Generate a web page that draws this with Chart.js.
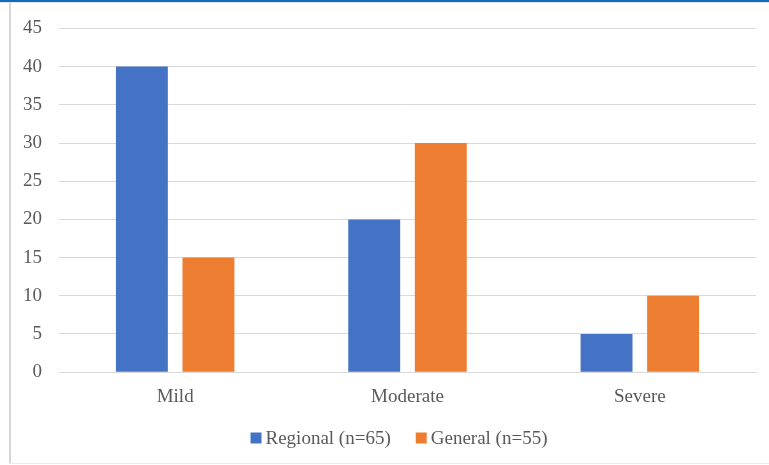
<!DOCTYPE html>
<html>
<head>
<meta charset="utf-8">
<script src="https://cdn.jsdelivr.net/npm/chart.js@4"></script>
<style>
  html, body { margin: 0; padding: 0; background: #fff; }
  #frame {
    position: absolute; left: 0; top: 0; width: 769px; height: 465px;
    overflow: hidden; background: #fff;
  }
  #topbar { position: absolute; left: 0; top: 0; width: 769px; height: 2px; background: #0f6cbd; }
  #topline { position: absolute; left: 0; top: 2px; width: 769px; height: 1px; background: #e4e4e4; }
  #leftline { position: absolute; left: 9px; top: 3px; width: 2px; height: 460px; background: #d6d6d6; }
  #bottomline { position: absolute; left: 9px; top: 463px; width: 760px; height: 1px; background: #ececec; }
  #wrap { position: absolute; left: 0; top: 0; width: 769px; height: 465px; }
</style>
</head>
<body>
<div id="frame">
  <div id="wrap"><canvas id="c" width="769" height="465"></canvas></div>
  <div id="topbar"></div>
  <div id="topline"></div>
  <div id="leftline"></div>
  <div id="bottomline"></div>
</div>
<script>
const categories = ['Mild', 'Moderate', 'Severe'];
const regionalValues = [40, 20, 5];
const generalValues = [15, 30, 10];
const seriesNames = ['Regional (n=65)', 'General (n=55)'];
const yTicks = [0, 5, 10, 15, 20, 25, 30, 35, 40, 45];

const fontFamily = '"Liberation Serif", "Times New Roman", serif';
const font = { family: fontFamily, size: 19 };
const textColor = '#595959';

// Compact bottom legend: small square swatch sitting close to its label.
const compactLegend = {
  id: 'compactLegend',
  afterDraw(chart) {
    const ctx = chart.ctx;
    const box = 11, gapText = 4, gapItem = 25;
    const centerX = 399, centerY = 438;
    ctx.save();
    ctx.font = `${font.size}px ${fontFamily}`;
    ctx.textBaseline = 'middle';
    const items = chart.data.datasets.map(ds => ({
      label: ds.label, color: ds.backgroundColor, w: ctx.measureText(ds.label).width
    }));
    const total = items.reduce((s, it) => s + box + gapText + it.w, 0) + gapItem * (items.length - 1);
    let x = centerX - total / 2;
    items.forEach(it => {
      ctx.fillStyle = it.color;
      ctx.fillRect(x, centerY - box / 2, box, box);
      x += box + gapText;
      ctx.fillStyle = textColor;
      ctx.fillText(it.label, x, centerY + 1);
      x += it.w + gapItem;
    });
    ctx.restore();
  }
};

new Chart(document.getElementById('c'), {
  type: 'bar',
  data: {
    labels: categories,
    datasets: [
      { label: seriesNames[0], data: regionalValues, backgroundColor: '#4472C4' },
      { label: seriesNames[1], data: generalValues, backgroundColor: '#ED7D31' }
    ]
  },
  options: {
    responsive: false,
    animation: false,
    devicePixelRatio: 1,
    categoryPercentage: 0.573,
    barPercentage: 0.78,
    layout: { padding: { left: 0, right: 13, top: 14, bottom: 52 } },
    plugins: {
      legend: { display: false },
      tooltip: { enabled: false }
    },
    scales: {
      x: {
        grid: { display: false },
        border: { color: '#d9d9d9', width: 1 },
        ticks: { font: font, color: textColor, padding: 5 }
      },
      y: {
        min: 0,
        max: 45,
        afterBuildTicks: (axis) => { axis.ticks = yTicks.map(v => ({ value: v })); },
        afterFit: (axis) => { axis.width = 59; },
        grid: { color: '#d9d9d9', lineWidth: 1, drawTicks: false },
        border: { display: false },
        ticks: { font: font, color: textColor, padding: 17 }
      }
    }
  },
  plugins: [compactLegend]
});
</script>
</body>
</html>
